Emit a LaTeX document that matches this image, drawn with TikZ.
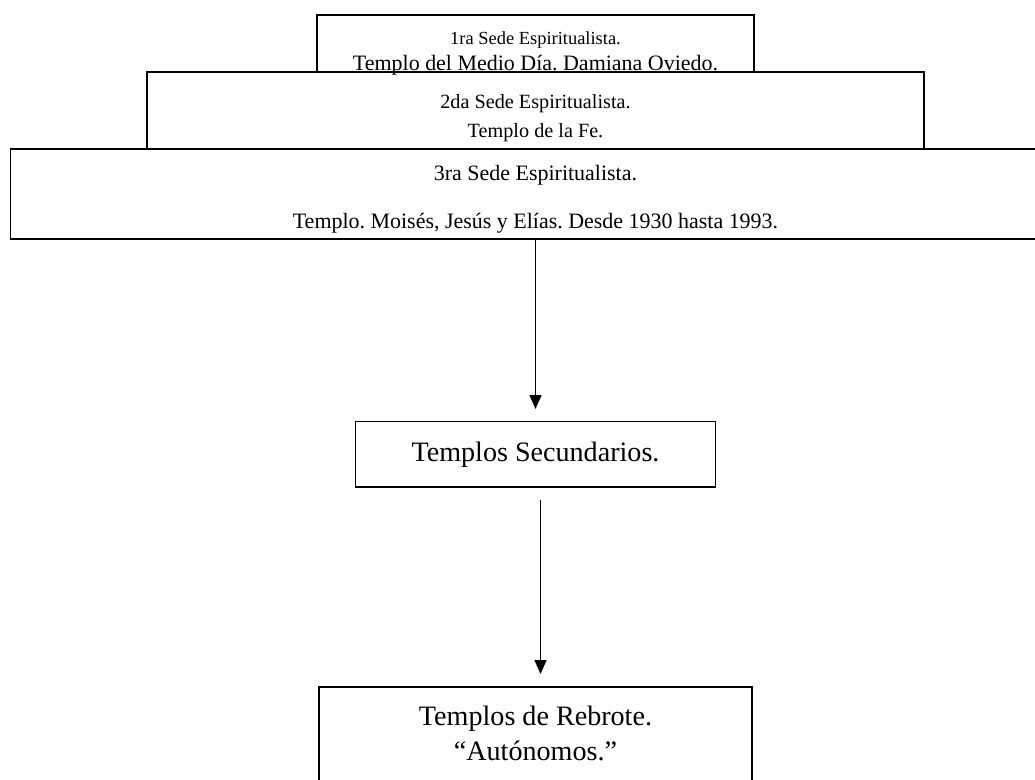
\documentclass[tikz,border=0pt]{standalone}
\usepackage{fontspec}
\setmainfont{Liberation Serif}
\usetikzlibrary{positioning, arrows.meta}
\tikzstyle{sede} = [rectangle, draw=black, line width=1pt, align=center, inner sep=0pt, outer sep=0pt, text depth=0pt]
\tikzstyle{templo} = [rectangle, draw=black, line width=1pt, align=center, inner sep=0pt, outer sep=0pt, font=\fontsize{16}{20}\selectfont]
\tikzstyle{arrow} = [line width=0.8pt, -{Triangle[length=0.28cm, width=0.24cm]}]

\begin{document}
\frenchspacing
\begin{tikzpicture}
\clip (0,0) rectangle (20.7,-15.58);
\node (sede1) [sede, minimum width=8.74cm, minimum height=1.14cm, text height=1.09cm,
    font=\fontsize{12.5}{15.2}\selectfont] at (10.71,-0.87)
    {{\fontsize{10.5}{15.2}\selectfont 1ra Sede Espiritualista.}\\Templo del Medio Día. Damiana Oviedo.};
\node (sede2) [sede, minimum width=15.54cm, minimum height=1.54cm, text height=1.06cm,
    font=\fontsize{11.5}{16}\selectfont, below=0pt of sede1]
    {2da Sede Espiritualista.\\Templo de la Fe.};
\node (sede3) [sede, minimum width=21cm, minimum height=1.8cm, text height=1.36cm,
    font=\fontsize{12.5}{14.4}\selectfont, below=0pt of sede2]
    {3ra Sede Espiritualista.\\[12.9pt]Templo. Moisés, Jesús y Elías. Desde 1930 hasta 1993.};
\node (secundarios) [templo, minimum width=7.2cm, minimum height=1.31cm, below=3.65cm of sede3]
    {Templos Secundarios.};
\node (rebrote) [templo, minimum width=8.66cm, minimum height=1.96cm, text height=0.99cm, text depth=0pt,
    below=4cm of secundarios]
    {Templos de Rebrote.\\“Autónomos.”};

\draw [arrow] (sede3) -- ([yshift=0.25cm]secundarios.north);
\draw [arrow] ([xshift=0.1cm, yshift=-0.25cm]secundarios.south) -- ([xshift=0.1cm, yshift=0.26cm]rebrote.north);
\end{tikzpicture}
\end{document}
